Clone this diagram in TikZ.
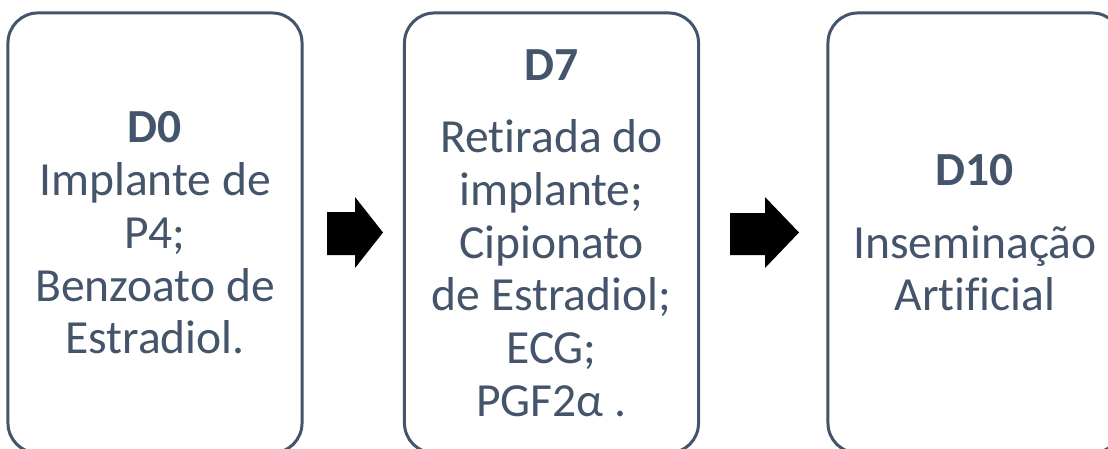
\documentclass[tikz,border=0pt]{standalone}
\usepackage{fontspec}
\setmainfont[Ligatures=NoCommon]{Carlito}
\usepackage{tikz}
\usetikzlibrary{positioning}
\definecolor{ardosia}{HTML}{44546A}

\begin{document}
\begin{tikzpicture}[x=0.025cm, y=-0.025cm,
    etapa/.style={rectangle, rounded corners=0.75cm, draw=ardosia, line width=0.075cm,
      text=ardosia, align=center, minimum width=7.35cm, minimum height=11cm,
      inner sep=0pt, font=\fontsize{33.8}{37.5}\selectfont}]
        \clip (0,0) rectangle (1108,448);

        \node[etapa] (d0) at (155,233) {\textbf{D0}\\Implante de\\P4;\\Benzoato de\\Estradiol.};
        \node[etapa] (d7) at (551.5,233) {\textbf{D7}\\[14pt]Retirada do\\implante;\\Cipionato\\de Estradiol;\\ECG;\\PGF2α .};
        \node[etapa] (d10) at (975,233) {\textbf{D10}\\[14pt]Inseminação\\Artificial};

        \fill[black] (327,212) -- (355,212) -- (355,197) -- (383,232.5)
          -- (355,268) -- (355,255) -- (327,255) -- cycle;
        \fill[black] (730,213) -- (765,213) -- (765,197) -- (799,232.5)
          -- (765,268) -- (765,255) -- (730,255) -- cycle;
      \end{tikzpicture}
\end{document}
